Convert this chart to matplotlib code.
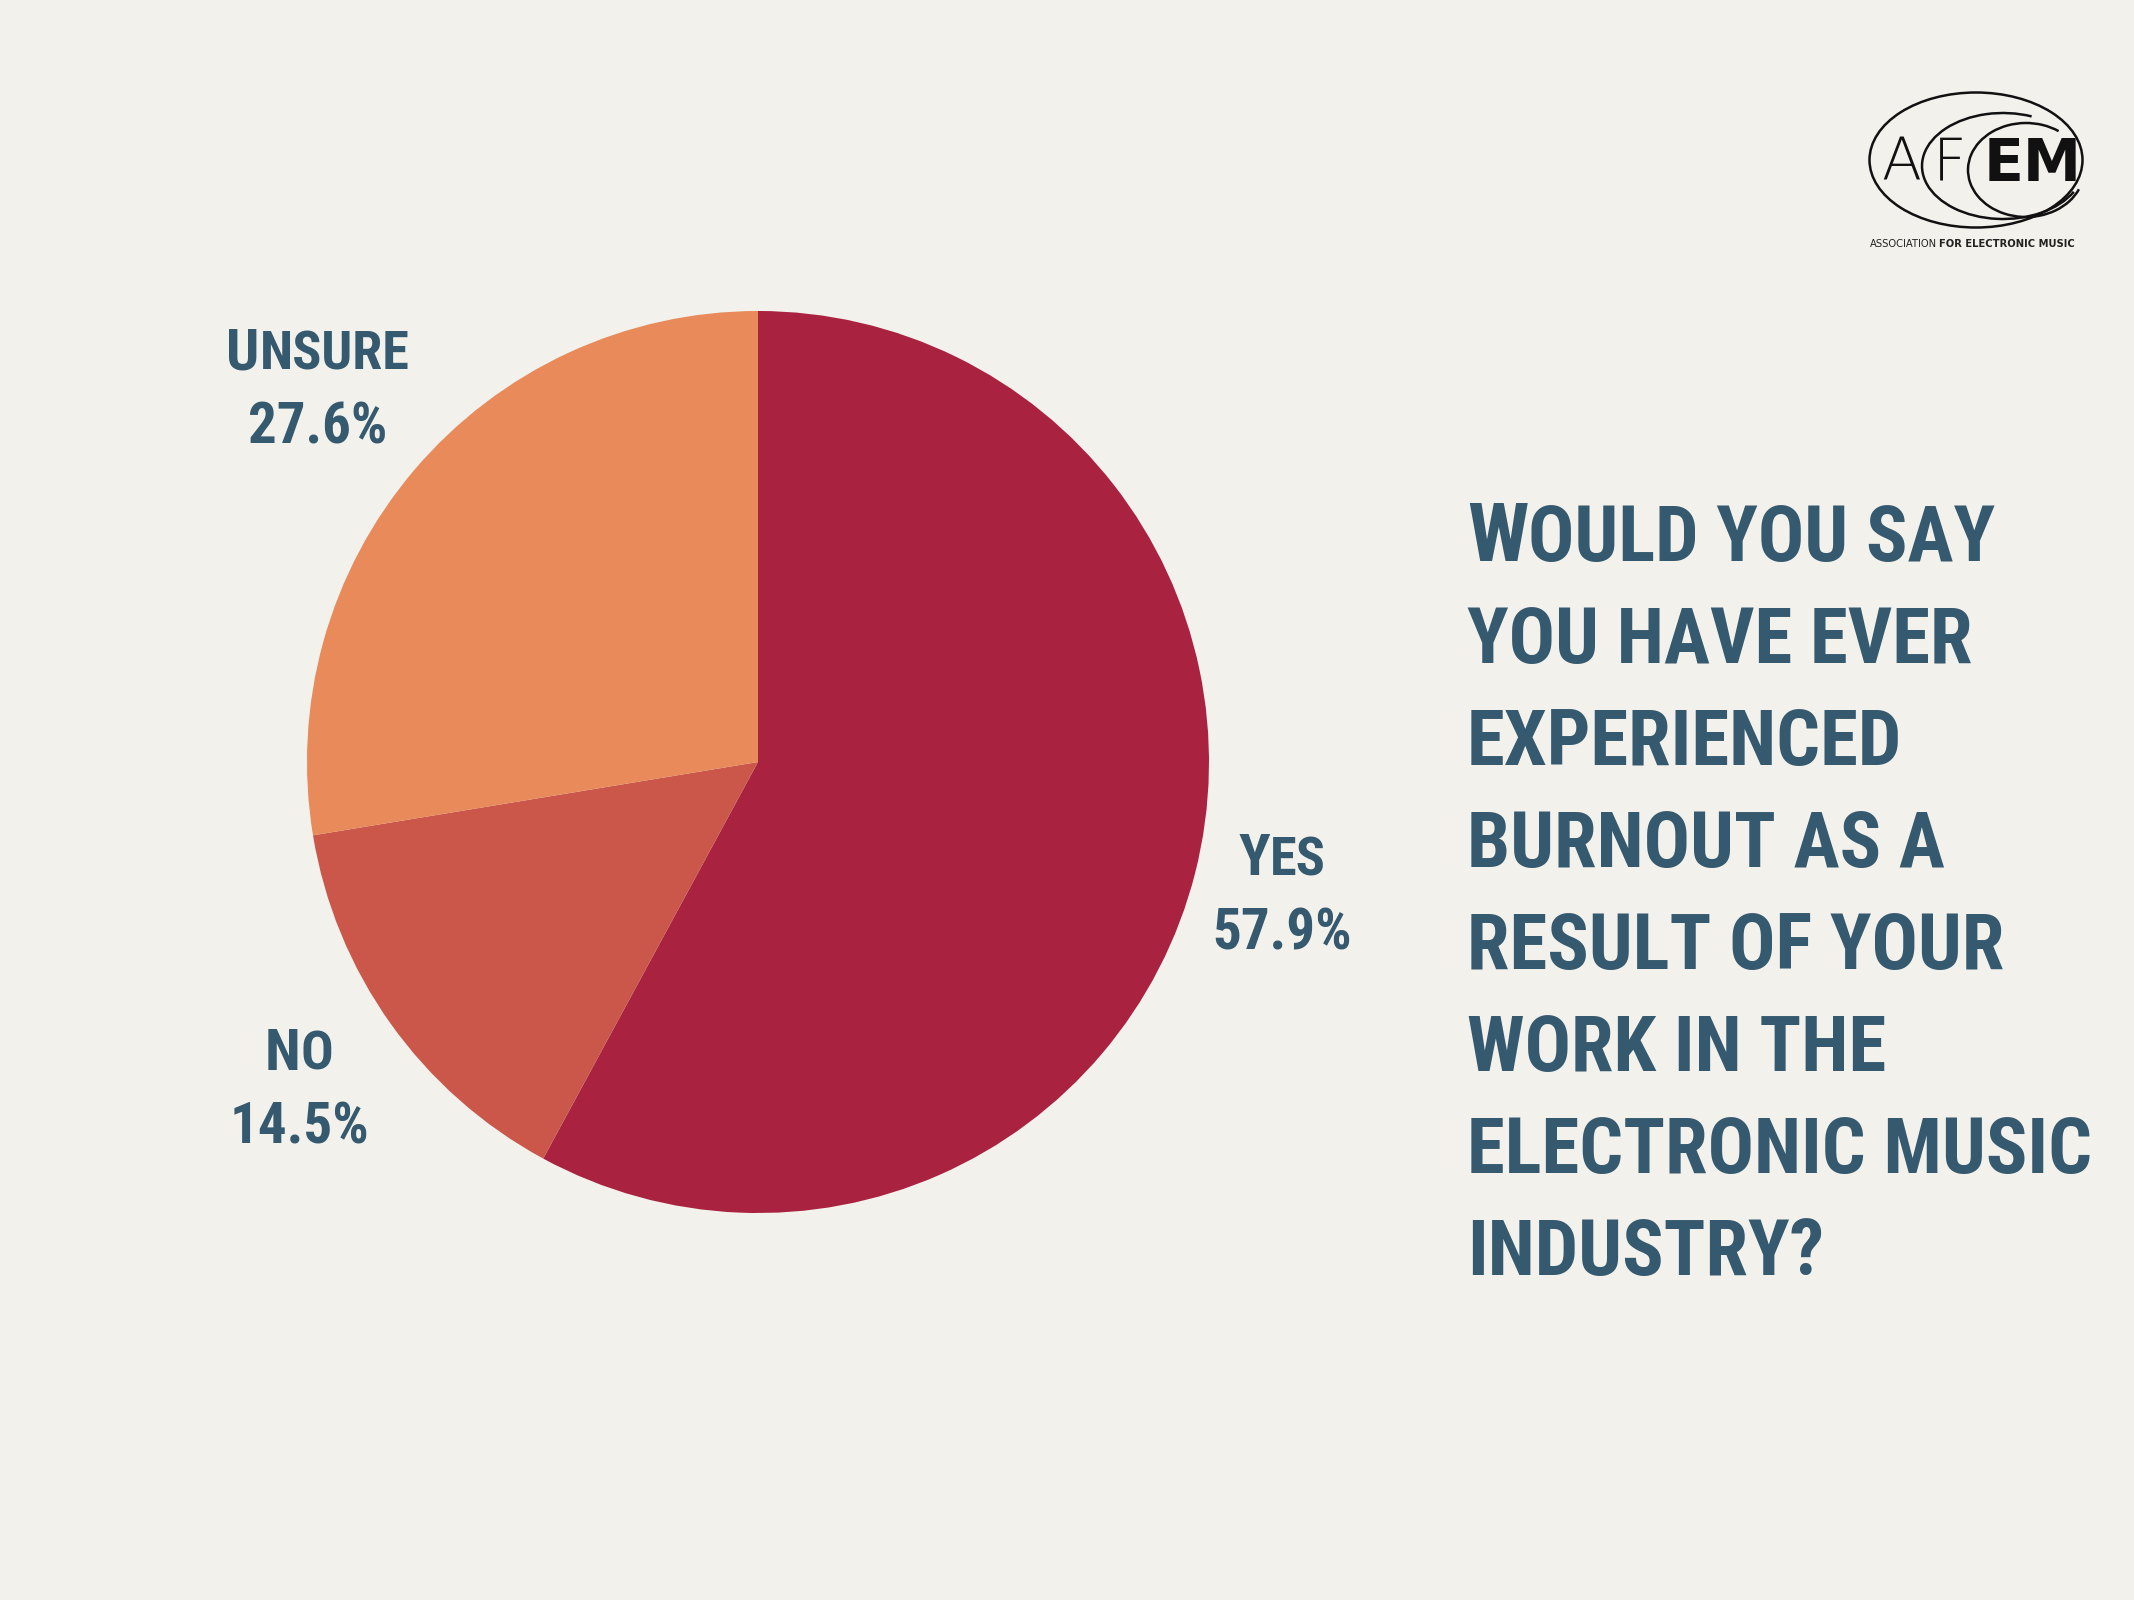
import matplotlib
matplotlib.use("Agg")
import matplotlib.pyplot as plt
from matplotlib.patches import Ellipse, Arc

# data
labels = ["Yes", "No", "Unsure"]
shares = [57.9, 14.5, 27.6]
colors = ["#A9223F", "#CB574B", "#E88A5A"]

question = ["Would you say", "you have ever", "experienced", "burnout as a",
            "result of your", "work in the", "electronic music", "industry?"]

BG = "#F3F1EC"
INK = "#35596E"
FAM = ["Roboto Condensed", "DejaVu Sans"]

fig = plt.figure(figsize=(10.67, 8), dpi=200, facecolor=BG)

# overlay axes in pixel units (y down)
ax = fig.add_axes([0, 0, 1, 1])
ax.set_xlim(0, 2134)
ax.set_ylim(1600, 0)
ax.axis("off")

# pie
cx, cy, r = 758, 762, 451
pax = fig.add_axes([(cx - r) / 2134, (1600 - cy - r) / 1600, 2 * r / 2134, 2 * r / 1600])
pax.pie(shares, colors=colors, startangle=90, counterclock=False,
        wedgeprops=dict(linewidth=0))
pax.set_xlim(-1, 1)
pax.set_ylim(-1, 1)
pax.axis("off")

renderer = fig.canvas.get_renderer()


def small_caps(x, y, word, big, small, ha="left", first_only=False):
    # fake small caps: capital letters bigger, rest uppercased smaller
    parts = []
    for i, ch in enumerate(word):
        is_big = ch.isupper() and (not first_only or i == 0)
        size = big if is_big else small
        if parts and parts[-1][1] == size:
            parts[-1][0] += ch.upper()
        else:
            parts.append([ch.upper(), size])
    widths = []
    for t, s in parts:
        tt = ax.text(0, 0, t, fontsize=s, fontweight="bold", family=FAM, fontstretch="condensed")
        bb = tt.get_window_extent(renderer)
        widths.append(bb.width)
        tt.remove()
    total = sum(widths)
    if ha == "center":
        x = x - total / 2
    for (t, s), w in zip(parts, widths):
        ax.text(x, y, t, fontsize=s, fontweight="bold", family=FAM, fontstretch="condensed",
                color=INK, va="baseline", ha="left")
        x += w


# slice labels
lab_pos = {"Unsure": (318, 370), "Yes": (1282, 875), "No": (299, 1070)}
for name, val in zip(labels, shares):
    lx, ly = lab_pos[name]
    small_caps(lx, ly, name, 21, 19.5, ha="center")
    ax.text(lx, ly + 74, f"{val}%", fontsize=20.5, fontweight="bold", family=FAM,
            fontstretch="condensed", color=INK, va="baseline", ha="center")

# question
for i, line in enumerate(question):
    small_caps(1467, 561 + i * 102, line, 29.5, 27.7, first_only=(i == 0))

# logo
ax.add_patch(Ellipse((1976, 160), 213, 135, fill=False, lw=0.9, color="#111111"))
ax.add_patch(Arc((2003, 166), 162, 106, theta1=20, theta2=300, lw=0.9, color="#111111"))
ax.add_patch(Arc((2026, 170), 116, 94, theta1=20, theta2=310, lw=0.9, color="#111111"))
ax.text(1881, 181, "A", fontsize=21, family="DejaVu Sans", fontweight="light",
        color="#111111", va="baseline")
ax.text(1933, 181, "F", fontsize=21, family="DejaVu Sans", fontweight="light",
        color="#111111", va="baseline")
ax.text(1984, 181, "EM", fontsize=21, family="DejaVu Sans", fontweight="bold",
        color="#111111", va="baseline")
ax.text(1870, 247, "ASSOCIATION", fontsize=3.6, family="DejaVu Sans",
        color="#222222", va="baseline")
ax.text(1939, 247, "FOR ELECTRONIC MUSIC", fontsize=3.6, family="DejaVu Sans",
        fontweight="bold", color="#222222", va="baseline")

fig.savefig("out.png", dpi=200, facecolor=BG)
